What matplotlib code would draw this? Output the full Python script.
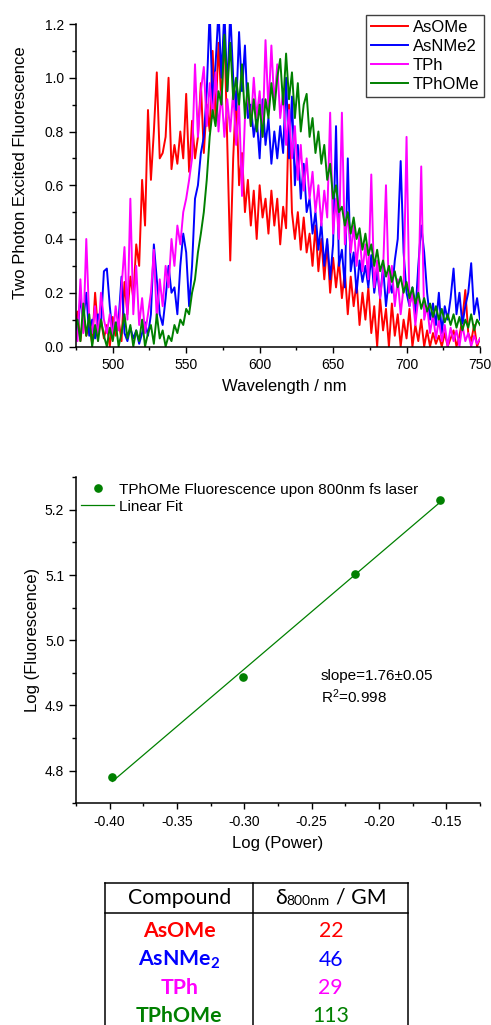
import matplotlib
matplotlib.use("Agg")
import matplotlib.pyplot as plt
import numpy as np
from matplotlib.ticker import MultipleLocator, FormatStrFormatter

# ---- data ------------------------------------------------------------------
WAVELENGTH = np.arange(474, 751, 2)  # nm, 2 nm sampling

AS_OME = [
    0.05, 0.13, 0.02, 0.12, 0.04, 0.08, 0.01, 0.20, 0.06, 0.10,
    0.03, 0.08, 0.00, 0.11, 0.04, 0.10, 0.02, 0.24, 0.12, 0.26,
    0.18, 0.38, 0.30, 0.62, 0.45, 0.88, 0.62, 0.80, 1.02, 0.70,
    0.72, 0.78, 1.00, 0.66, 0.75, 0.68, 0.80, 0.70, 0.94, 0.65,
    0.84, 0.70, 0.78, 0.98, 0.72, 0.90, 0.80, 1.10, 0.85, 1.13,
    0.90, 1.18, 0.75, 0.32, 0.70, 0.95, 0.60, 0.72, 0.50, 0.62,
    0.45, 0.58, 0.40, 0.60, 0.48, 0.55, 0.42, 0.58, 0.45, 0.55,
    0.38, 0.52, 0.44, 0.90, 0.50, 0.40, 0.50, 0.36, 0.48, 0.35,
    0.42, 0.30, 0.45, 0.28, 0.40, 0.25, 0.38, 0.20, 0.33, 0.22,
    0.32, 0.18, 0.28, 0.12, 0.26, 0.15, 0.24, 0.08, 0.20, 0.10,
    0.22, 0.05, 0.15, 0.00, 0.18, 0.06, 0.14, 0.00, 0.16, 0.04,
    0.12, 0.00, 0.10, 0.03, 0.14, 0.00, 0.08, 0.02, 0.10, 0.00,
    0.06, 0.00, 0.05, 0.01, 0.04, 0.00, 0.05, 0.00, 0.03, 0.06,
    0.00, 0.04, 0.10, 0.21, 0.05, 0.02, 0.08, 0.00, 0.03,
]
AS_NME2 = [
    0.12, 0.05, 0.18, 0.10, 0.20, 0.04, 0.10, 0.03, 0.12, 0.08,
    0.28, 0.29, 0.15, 0.04, 0.08, 0.10, 0.26, 0.05, 0.02, 0.07,
    0.03, 0.06, 0.01, 0.05, 0.09, 0.04, 0.12, 0.38, 0.25, 0.12,
    0.08, 0.18, 0.30, 0.20, 0.22, 0.12, 0.30, 0.42, 0.35, 0.15,
    0.30, 0.55, 0.60, 0.72, 0.78, 0.95, 1.25, 0.90, 1.05, 1.25,
    1.00, 1.25, 0.95, 1.25, 1.00, 0.88, 1.17, 0.95, 1.12, 0.85,
    0.90, 0.78, 0.85, 0.70, 0.92, 0.75, 0.85, 0.68, 0.80, 0.70,
    0.82, 0.72, 1.00, 0.70, 0.93, 0.60, 0.75, 0.55, 0.68, 0.50,
    0.55, 0.42, 0.50, 0.36, 0.46, 0.30, 0.40, 0.25, 0.38, 0.82,
    0.30, 0.36, 0.22, 0.70, 0.28, 0.35, 0.20, 0.32, 0.24, 0.30,
    0.22, 0.34, 0.20, 0.28, 0.18, 0.30, 0.15, 0.25, 0.20, 0.32,
    0.40, 0.69, 0.35, 0.20, 0.15, 0.22, 0.12, 0.30, 0.45, 0.35,
    0.20, 0.10, 0.16, 0.08, 0.20, 0.05, 0.15, 0.10, 0.18, 0.29,
    0.12, 0.20, 0.08, 0.15, 0.20, 0.31, 0.12, 0.18, 0.10,
]
TPH = [
    0.08, 0.02, 0.25, 0.05, 0.40, 0.10, 0.05, 0.15, 0.02, 0.20,
    0.10, 0.05, 0.12, 0.03, 0.15, 0.06, 0.22, 0.37, 0.10, 0.55,
    0.12, 0.30, 0.08, 0.18, 0.05, 0.12, 0.20, 0.36, 0.10, 0.25,
    0.15, 0.30, 0.22, 0.40, 0.30, 0.45, 0.38, 0.50, 0.55, 0.62,
    0.70, 1.05, 0.78, 0.95, 1.04, 0.82, 0.98, 0.85, 1.02, 0.80,
    0.95, 0.78, 0.92, 0.80, 0.95, 0.75, 0.90, 0.56, 0.85, 0.95,
    0.82, 1.00, 0.85, 0.95, 0.78, 1.14, 0.88, 1.12, 0.90, 1.05,
    0.85, 0.95, 0.75, 0.88, 0.70, 0.82, 0.62, 0.75, 0.58, 0.70,
    0.55, 0.65, 0.50, 0.60, 0.45, 0.58, 0.48, 0.87, 0.42, 0.55,
    0.40, 0.87, 0.38, 0.50, 0.35, 0.45, 0.30, 0.42, 0.28, 0.38,
    0.25, 0.64, 0.22, 0.32, 0.18, 0.28, 0.60, 0.20, 0.30, 0.15,
    0.25, 0.12, 0.22, 0.78, 0.15, 0.20, 0.08, 0.18, 0.67, 0.10,
    0.15, 0.05, 0.12, 0.03, 0.10, 0.02, 0.08, 0.00, 0.07, 0.02,
    0.06, 0.00, 0.08, 0.02, 0.05, 0.00, 0.04, 0.01, 0.03,
]
TPH_OME = [
    0.06, 0.10, 0.02, 0.16, 0.04, 0.12, 0.00, 0.08, 0.02, 0.10,
    0.04, 0.00, 0.07, 0.02, 0.09, 0.00, 0.05, 0.12, 0.03, 0.08,
    0.00, 0.06, 0.02, 0.10, 0.00, 0.05, 0.08, 0.01, 0.12, 0.03,
    0.06, 0.00, 0.04, 0.02, 0.08, 0.05, 0.10, 0.08, 0.14, 0.12,
    0.20, 0.25, 0.35, 0.42, 0.50, 0.62, 0.78, 0.88, 0.82, 0.95,
    0.90, 1.16, 0.95, 1.13, 0.92, 1.00, 0.90, 1.05, 0.85, 0.98,
    0.82, 0.92, 0.80, 0.90, 0.78, 0.92, 0.85, 0.98, 0.88, 1.00,
    1.07, 0.90, 1.09, 0.92, 1.02, 0.85, 0.98, 0.80, 0.90, 0.94,
    0.78, 0.85, 0.72, 0.80, 0.68, 0.75, 0.62, 0.68, 0.55, 0.60,
    0.50, 0.52, 0.45, 0.50, 0.42, 0.48, 0.40, 0.44, 0.36, 0.42,
    0.34, 0.38, 0.30, 0.36, 0.28, 0.32, 0.26, 0.30, 0.24, 0.28,
    0.22, 0.26, 0.20, 0.24, 0.18, 0.22, 0.16, 0.20, 0.14, 0.18,
    0.13, 0.16, 0.11, 0.15, 0.10, 0.14, 0.09, 0.12, 0.08, 0.12,
    0.07, 0.11, 0.06, 0.10, 0.07, 0.12, 0.06, 0.10, 0.08,
]
SPECTRA = [AS_OME, AS_NME2, TPH, TPH_OME]
SPECTRA_LABELS = ["AsOMe", "AsNMe2", "TPh", "TPhOMe"]
COLORS = ["#FF0000", "#0000FF", "#FF00FF", "#008000"]

LOG_POWER = [-0.398, -0.301, -0.218, -0.155]
LOG_FLUOR = [4.790, 4.943, 5.101, 5.215]
FIT_TEXT = ["slope=1.76\u00b10.05", "R$^2$=0.998"]

TABLE_HEADER = ["Compound", "\u03b4", "800nm", "/ GM"]
COMPOUNDS = ["AsOMe", "AsNMe$_2$", "TPh", "TPhOMe"]
CROSS_SECTION = [22, 46, 29, 113]

# ---- style -------------------------------------------------------------------
plt.rcParams.update({
    "font.family": ["Liberation Sans", "DejaVu Sans"],
    "mathtext.default": "regular",
    "axes.unicode_minus": False,
    "axes.linewidth": 1.1,
    "xtick.labelsize": 10,
    "ytick.labelsize": 10,
    "axes.labelsize": 12,
})
TABLE_FONT = ["Lato", "DejaVu Sans"]
W, H = 491, 1025


def style_axis(ax):
    ax.spines["top"].set_visible(False)
    ax.spines["right"].set_visible(False)
    ax.tick_params(axis="y", which="major", direction="out", length=5, width=1.0, pad=3.5)
    ax.tick_params(axis="y", which="minor", direction="out", length=3, width=1.0)
    ax.tick_params(axis="x", which="major", direction="out", length=4, width=1.0, pad=4.5)
    ax.tick_params(axis="x", which="minor", direction="out", length=2.4, width=1.0)


fig = plt.figure(figsize=(W / 100, H / 100), dpi=100)

# ---- spectra -------------------------------------------------------------------
ax1 = fig.add_axes([76 / W, 1 - 346.5 / H, 404 / W, 322.5 / H])
for ys, lab, col in zip(SPECTRA, SPECTRA_LABELS, COLORS):
    ax1.plot(WAVELENGTH, ys, color=col, linewidth=1.4, label=lab)
ax1.set_xlim(475, 750)
ax1.set_ylim(0, 1.2)
ax1.xaxis.set_major_locator(MultipleLocator(50))
ax1.xaxis.set_minor_locator(MultipleLocator(25))
ax1.yaxis.set_major_locator(MultipleLocator(0.2))
ax1.yaxis.set_minor_locator(MultipleLocator(0.1))
ax1.yaxis.set_major_formatter(FormatStrFormatter("%.1f"))
style_axis(ax1)
ax1.set_xlabel("Wavelength / nm")
ax1.set_ylabel("Two Photon Excited Fluorescence")
ax1.xaxis.set_label_coords(0.515, -0.1)
ax1.yaxis.set_label_coords(-0.118, 0.54)
leg = ax1.legend(loc="upper right", bbox_to_anchor=(484 / W, 1 - 14.7 / H),
                 bbox_transform=fig.transFigure, fontsize=12, frameon=True,
                 fancybox=False, edgecolor="#404040", framealpha=1,
                 borderpad=0.3, labelspacing=0.25, handlelength=2.2,
                 handletextpad=0.3, borderaxespad=0)
leg.get_frame().set_linewidth(1.0)

# ---- power dependence ----------------------------------------------------------
ax2 = fig.add_axes([76 / W, 1 - 803.3 / H, 404 / W, 326 / H])
slope, icpt = np.polyfit(LOG_POWER, LOG_FLUOR, 1)
xfit = np.array([min(LOG_POWER), max(LOG_POWER)])
ax2.plot(LOG_POWER, LOG_FLUOR, "o", color="#008000", markersize=5.2,
         label="TPhOMe Fluorescence upon 800nm fs laser")
ax2.plot(xfit, slope * xfit + icpt, color="#008000", linewidth=0.9, label="Linear Fit")
ax2.set_xlim(-0.425, -0.125)
ax2.set_ylim(4.75, 5.25)
ax2.xaxis.set_major_locator(MultipleLocator(0.05))
ax2.xaxis.set_minor_locator(MultipleLocator(0.025))
ax2.yaxis.set_major_locator(MultipleLocator(0.1))
ax2.yaxis.set_minor_locator(MultipleLocator(0.05))
ax2.xaxis.set_major_formatter(FormatStrFormatter("%.2f"))
ax2.yaxis.set_major_formatter(FormatStrFormatter("%.1f"))
style_axis(ax2)
ax2.set_xlabel("Log (Power)")
ax2.set_ylabel("Log (Fluorescence)")
ax2.xaxis.set_label_coords(0.5, -0.1)
ax2.yaxis.set_label_coords(-0.089, 0.5)
ax2.legend(loc="upper left", bbox_to_anchor=(-0.01, 1.012), fontsize=11, frameon=False,
           labelspacing=0.2, handlelength=2.15, handletextpad=0.35, borderaxespad=0.2)
ax2.text(-0.2432, 4.946, FIT_TEXT[0], fontsize=11, va="center", ha="left")
ax2.text(-0.2432, 4.913, FIT_TEXT[1], fontsize=11, va="center", ha="left")

# ---- table (pixel coordinates) -------------------------------------------------
tab = fig.add_axes([0, 0, 1, 1])
tab.set_xlim(0, W)
tab.set_ylim(H, 0)
tab.axis("off")
left, mid, right, top, hline = 105, 253.3, 408.3, 882.7, 912.7
tab.plot([left, right], [top, top], color="black", lw=1.1)
tab.plot([left, right], [hline, hline], color="black", lw=1.1)
for xv in (left, mid, right):
    tab.plot([xv, xv], [top, H + 5], color="black", lw=1.1, clip_on=False)
c1 = (left + mid) / 2
c2 = (mid + right) / 2
tab.text(c1, 898, TABLE_HEADER[0], fontsize=15.3, family=TABLE_FONT, ha="center", va="center")
d = tab.text(275, 898, TABLE_HEADER[1], fontsize=15.3, family=TABLE_FONT, ha="left", va="center")
tab.annotate(TABLE_HEADER[2], xy=(1, 0), xycoords=d, xytext=(0, 1),
             textcoords="offset points", fontsize=10, family=TABLE_FONT,
             ha="left", va="bottom")
tab.text(336.5, 898, TABLE_HEADER[3], fontsize=15.3, family=TABLE_FONT, ha="left", va="center")
row_y = [931, 959.5, 988, 1016.5]
for name, val, col, yy in zip(COMPOUNDS, CROSS_SECTION, COLORS, row_y):
    tab.text(c1, yy, name, fontsize=15.3, family=TABLE_FONT, weight="bold",
             color=col, ha="center", va="center")
    tab.text(c2, yy, str(val), fontsize=15.3, family=TABLE_FONT,
             color=col, ha="center", va="center")

fig.savefig("out.png", dpi=100)
